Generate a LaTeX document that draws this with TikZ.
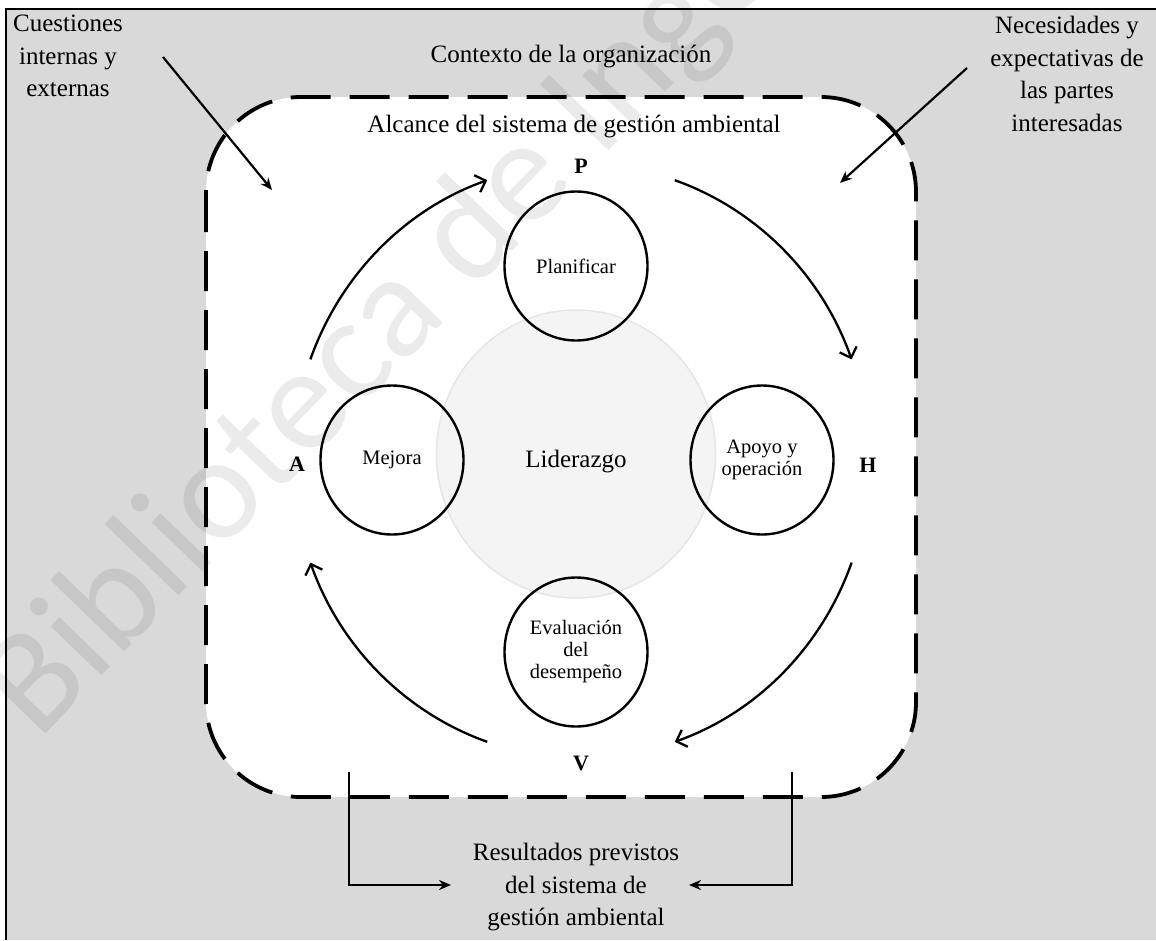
\documentclass[tikz,border=0pt]{standalone}
\usepackage{fontspec}
\setmainfont{Liberation Serif}
\newfontfamily\wmfont{Carlito}
\usetikzlibrary{arrows.meta,shapes.geometric,calc}
\definecolor{bggray}{RGB}{217,217,217}
\definecolor{lidfill}{RGB}{244,244,244}
\definecolor{lidline}{RGB}{230,230,230}
\begin{document}
\begin{tikzpicture}[x=1pt,y=-1pt,
  lbl/.style={font=\fontsize{25}{32.5}\selectfont, align=center, inner sep=0pt},
  cyc/.style={draw, ellipse, line width=2.4pt, minimum width=143pt, minimum height=149pt,
    inner sep=0pt, align=center, font=\fontsize{20.5}{22}\selectfont},
  phva/.style={font=\bfseries\fontsize{22}{24}\selectfont, inner sep=0pt, anchor=base},
  cyarrow/.style={line width=2.3pt, -{Straight Barb[length=9pt,width=18pt]}},
  inarrow/.style={line width=2.2pt, -{Stealth[length=12pt,width=10pt]}},
  scopebox/.style={fill=white, line width=3.8pt, dash pattern=on 40pt off 19pt, rounded corners=95pt}
]
\useasboundingbox (0,0) rectangle (1156,940);
\fill[white] (0,0) rectangle (1156,940);
\fill[bggray] (6,9) rectangle (1156,940);
\draw[line width=2.5pt] (6,940) -- (6,9) -- (1156,9);

% scope of the EMS
\draw[scopebox] (206,97) rectangle (916,797);

% leadership disc
\node[ellipse, draw=lidline, fill=lidfill, line width=1.5pt, minimum width=279pt, minimum height=288pt] (lid) at (576,454) {};
\node[lbl, anchor=base] (lidtxt) at (576,467) {Liderazgo};

% PDCA circles
\node[cyc] (plan) at (576,266) {Planificar};
\node[cyc] (mej) at (392,460) {Mejora};
\node[cyc] (apo) at (762,460) {Apoyo y\\operación};
\node[cyc] (eva) at (576,652) {Evaluación\\del\\desempeño};

% PHVA letters
\node[phva] (P) at (581,173) {P};
\node[phva] (A) at (297,471) {A};
\node[phva] (H) at (868,472) {H};
\node[phva] (V) at (581,770) {V};

% cycle arrows
\coordinate (cc) at (581,461);
\coordinate (ap) at ($(cc)+(-160:288 and 297)$);
\coordinate (ph) at ($(cc)+(-71:288 and 297)$);
\coordinate (hv) at ($(cc)+(20:288 and 297)$);
\coordinate (va) at ($(cc)+(109:288 and 297)$);
\draw[cyarrow] (ap) arc[start angle=-160, end angle=-109, x radius=288, y radius=297];
\draw[cyarrow] (ph) arc[start angle=-71, end angle=-20, x radius=288, y radius=297];
\draw[cyarrow] (hv) arc[start angle=20, end angle=71, x radius=288, y radius=297];
\draw[cyarrow] (va) arc[start angle=109, end angle=160, x radius=288, y radius=297];

% texts
\node[lbl, anchor=base] (ctx) at (571,62) {Contexto de la organización};
\node[lbl, anchor=base] (alc) at (574,132) {Alcance del sistema de gestión ambiental};
\node[lbl, anchor=north] (cue) at (68,15) {Cuestiones\\internas y\\externas};
\node[lbl, anchor=north] (nec) at (1067,16) {Necesidades y\\expectativas de\\las partes\\interesadas};
\node[lbl, anchor=north] (res) at (576,843) {Resultados previstos\\del sistema de\\gestión ambiental};

% input arrows
\coordinate (cq1) at (163,57);
\coordinate (cq2) at (272,190);
\draw[inarrow] (cq1) -- (cq2);
\coordinate (nq1) at (967,68);
\coordinate (nq2) at (840,183);
\draw[inarrow] (nq1) -- (nq2);

% output arrows
\coordinate (bl1) at (349,772);
\coordinate (bl2) at (451,885);
\draw[inarrow] (bl1) |- (bl2);
\coordinate (br1) at (792,772);
\coordinate (br2) at (689,885);
\draw[inarrow] (br1) |- (br2);

% watermark
\begin{scope}
\clip (0,0) rectangle (1156,940);
\node[rotate=46, anchor=base west, inner sep=0pt, text=black, text opacity=0.08,
  font=\wmfont\fontsize{148}{148}\selectfont] (wm) at (38,742) {Biblioteca de Ingeniería};
\end{scope}
\end{tikzpicture}
\end{document}
